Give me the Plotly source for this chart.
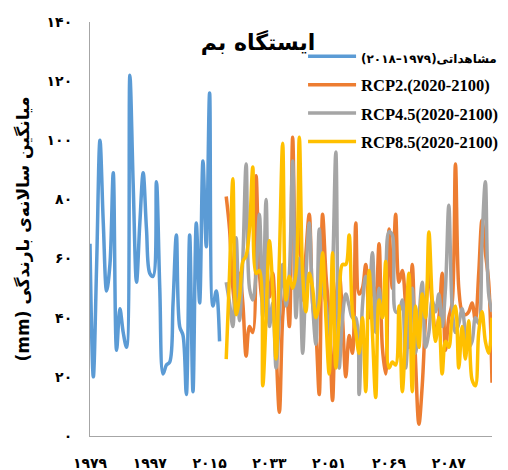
import plotly.graph_objects as go

years_obs = list(range(1979, 2019))
obs = [65, 20, 58, 100, 72, 49, 58, 89, 29, 43,
       35, 30, 122, 85, 52, 72, 89, 70, 55, 54,
       86, 50, 21, 24, 25, 45, 68, 37, 34, 14,
       68, 15, 72, 45, 93, 64, 116, 44, 49, 32]

years_fut = list(range(2020, 2101))
rcp26 = [81, 70, 50, 42, 55, 45, 27, 37, 35, 88,
         55, 45, 60, 47, 55, 30, 8, 40, 52, 37,
         101, 60, 70, 46, 62, 75, 45, 35, 14, 75,
         55, 40, 12, 45, 55, 40, 20, 34, 28, 72,
         48, 50, 58, 40, 52, 45, 65, 30, 21, 70,
         50, 75, 52, 56, 44, 30, 58, 25, 4, 17,
         40, 55, 45, 35, 40, 55, 29, 40, 45, 92,
         50, 42, 41, 42, 45, 39, 55, 73, 62, 52, 18]
rcp45 = [52, 45, 37, 67, 39, 60, 92, 50, 46, 55,
         75, 40, 80, 37, 45, 23, 40, 58, 44, 55,
         93, 40, 60, 28, 54, 72, 45, 31, 70, 50,
         45, 35, 55, 96, 23, 40, 48, 44, 40, 40,
         14, 44, 54, 50, 62, 35, 50, 40, 55, 69,
         68, 42, 42, 46, 23, 40, 50, 28, 40, 52,
         30, 35, 46, 42, 48, 37, 50, 78, 44, 35,
         38, 43, 35, 30, 32, 40, 38, 66, 86, 48, 42]
rcp85 = [26, 55, 87, 41, 47, 59, 61, 70, 91, 55,
         56, 17, 40, 66, 50, 26, 60, 99, 46, 54,
         50, 55, 101, 55, 42, 55, 50, 40, 45, 62,
         40, 21, 62, 23, 40, 58, 58, 68, 42, 35,
         28, 40, 15, 56, 35, 13, 46, 40, 59, 23,
         25, 24, 44, 15, 35, 55, 15, 44, 30, 48,
         40, 69, 46, 32, 40, 21, 32, 30, 40, 44,
         23, 37, 26, 39, 19, 17, 35, 42, 32, 28, 40]

x_tickvals = [1979, 1997, 2015, 2033, 2051, 2069, 2087]
x_ticktext = ["۱۹۷۹", "۱۹۹۷", "۲۰۱۵", "۲۰۳۳", "۲۰۵۱", "۲۰۶۹", "۲۰۸۷"]
y_tickvals = [0, 20, 40, 60, 80, 100, 120, 140]
y_ticktext = ["٠", "۲۰", "۴۰", "۶۰", "۸۰", "۱۰۰", "۱۲۰", "۱۴۰"]

names = [
    "<span style='font-family:DejaVu Sans;font-size:12px'>\u202Bمشاهداتی(۱۹۷۹–۲۰۱۸)\u202C</span>",
    "RCP2.(2020-2100)",
    "RCP4.5(2020-2100)",
    "RCP8.5(2020-2100)",
]
colors = ["#5B9BD5", "#ED7D31", "#A5A5A5", "#FFC000"]

fig = go.Figure()
series = [(years_obs, obs), (years_fut, rcp26), (years_fut, rcp45), (years_fut, rcp85)]
for i, (xs, ys) in enumerate(series):
    fig.add_trace(go.Scatter(
        x=xs, y=ys, mode="lines", name=names[i], legendgroup=str(i),
        line=dict(color=colors[i], width=3.5, shape="spline", smoothing=1.0),
    ))

# page body has an 8px margin, so the figure is 500x462 placed at (8, 8)
W, H = 500, 462
fig.update_layout(
    width=W, height=H,
    margin=dict(l=82, r=16, t=14, b=34, autoexpand=False),
    paper_bgcolor="white", plot_bgcolor="white",
    title=dict(text="<b>ایستگاه بم</b>", x=250 / W, xref="container", xanchor="center",
               y=1 - 34 / H, yref="container", yanchor="middle",
               font=dict(family="DejaVu Sans", size=22, color="black")),
    legend=dict(x=0.53, y=0.959, xref="paper", yref="paper",
                xanchor="left", yanchor="top", bgcolor="rgba(0,0,0,0)",
                tracegroupgap=4, itemwidth=48,
                font=dict(family="Liberation Serif", size=16.5, color="black", weight="bold")),
    showlegend=True,
)
fig.update_xaxes(range=[1979, 2100], tickvals=x_tickvals, ticktext=x_ticktext, tickangle=0,
                 showgrid=False, zeroline=False, showline=True, linecolor="#A6A6A6", linewidth=1,
                 ticks="", ticklabelstandoff=14,
                 tickfont=dict(family="DejaVu Sans", size=14, color="black", weight="bold"))
fig.update_yaxes(range=[0, 140], tickvals=y_tickvals, ticktext=y_ticktext,
                 showgrid=False, zeroline=False, showline=True, linecolor="#A6A6A6", linewidth=1,
                 ticks="", ticklabelstandoff=14,
                 tickfont=dict(family="DejaVu Sans", size=14, color="black", weight="bold"),
                 title=dict(text="\u202Bمیانگین سالانه‌ی بارندگی (mm)\u202C", standoff=12,
                            font=dict(family="DejaVu Sans", size=17, color="black", weight="bold")))

fig.write_html("out.html")
